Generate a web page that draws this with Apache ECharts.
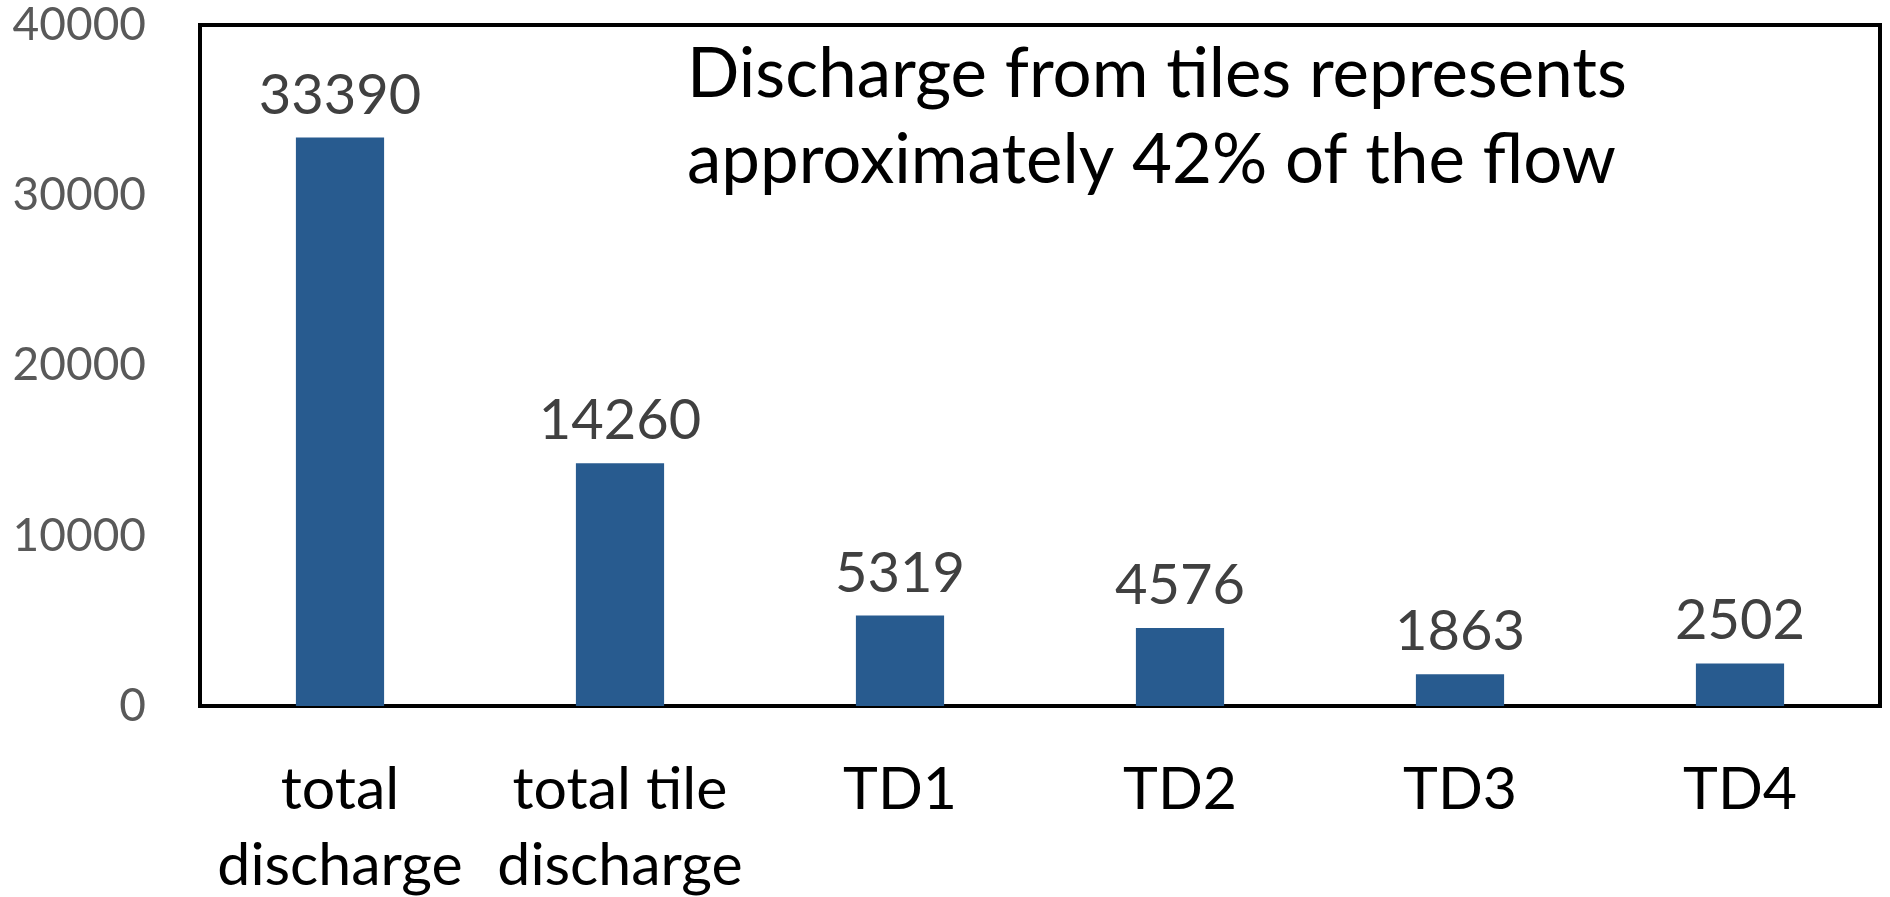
<!DOCTYPE html>
<html>
<head>
<meta charset="utf-8">
<script src="https://cdn.jsdelivr.net/npm/echarts@6/dist/echarts.min.js"></script>
<style>
  html, body { margin: 0; padding: 0; background: #fff; }
  #chart { width: 1890px; height: 897px; }
</style>
</head>
<body>
<div id="chart"></div>
<script>
// discharge values
const categories = ['total\ndischarge', 'total tile\ndischarge', 'TD1', 'TD2', 'TD3', 'TD4']
const discharge = [33390, 14260, 5319, 4576, 1863, 2502]
const yTicks = { min: 0, max: 40000, interval: 10000 }
const note = ['Discharge from tiles represents', 'approximately 42% of the flow']

const FONT = 'Lato, "Open Sans", sans-serif'
const BAR = '#285b8f'

const chart = echarts.init(document.getElementById('chart'))

chart.setOption({
  backgroundColor: '#ffffff',
  animation: false,
  grid: {
    left: 200, right: 10, top: 25, bottom: 191,
    outerBoundsMode: 'none',
    containLabel: false,
    show: true,
    borderColor: '#000',
    borderWidth: 4,
    backgroundColor: 'transparent',
  },
  xAxis: {
    type: 'category',
    data: categories,
    axisLine: { show: false },
    axisTick: { show: false },
    axisLabel: {
      interval: 0,
      color: '#000',
      fontFamily: FONT,
      fontSize: 59,
      lineHeight: 76,
      margin: 46,
    },
  },
  yAxis: {
    type: 'value',
    min: yTicks.min,
    max: yTicks.max,
    interval: yTicks.interval,
    axisLine: { show: false },
    axisTick: { show: false },
    splitLine: { show: false },
    axisLabel: {
      color: '#595959',
      fontFamily: FONT,
      fontSize: 46,
      margin: 54,
      formatter: (v) => String(v),
    },
  },
  graphic: [{
    type: 'text',
    left: 687,
    top: 32,
    style: {
      text: note.join('\n'),
      fill: '#000',
      font: '69px ' + FONT,
      lineHeight: 86,
    },
  }],
  series: [{
    type: 'bar',
    data: discharge,
    barWidth: '31.5%',
    itemStyle: { color: BAR },
    label: {
      show: true,
      position: 'top',
      distance: 14,
      color: '#404040',
      fontFamily: FONT,
      fontSize: 56,
    },
  }],
})
</script>
</body>
</html>
